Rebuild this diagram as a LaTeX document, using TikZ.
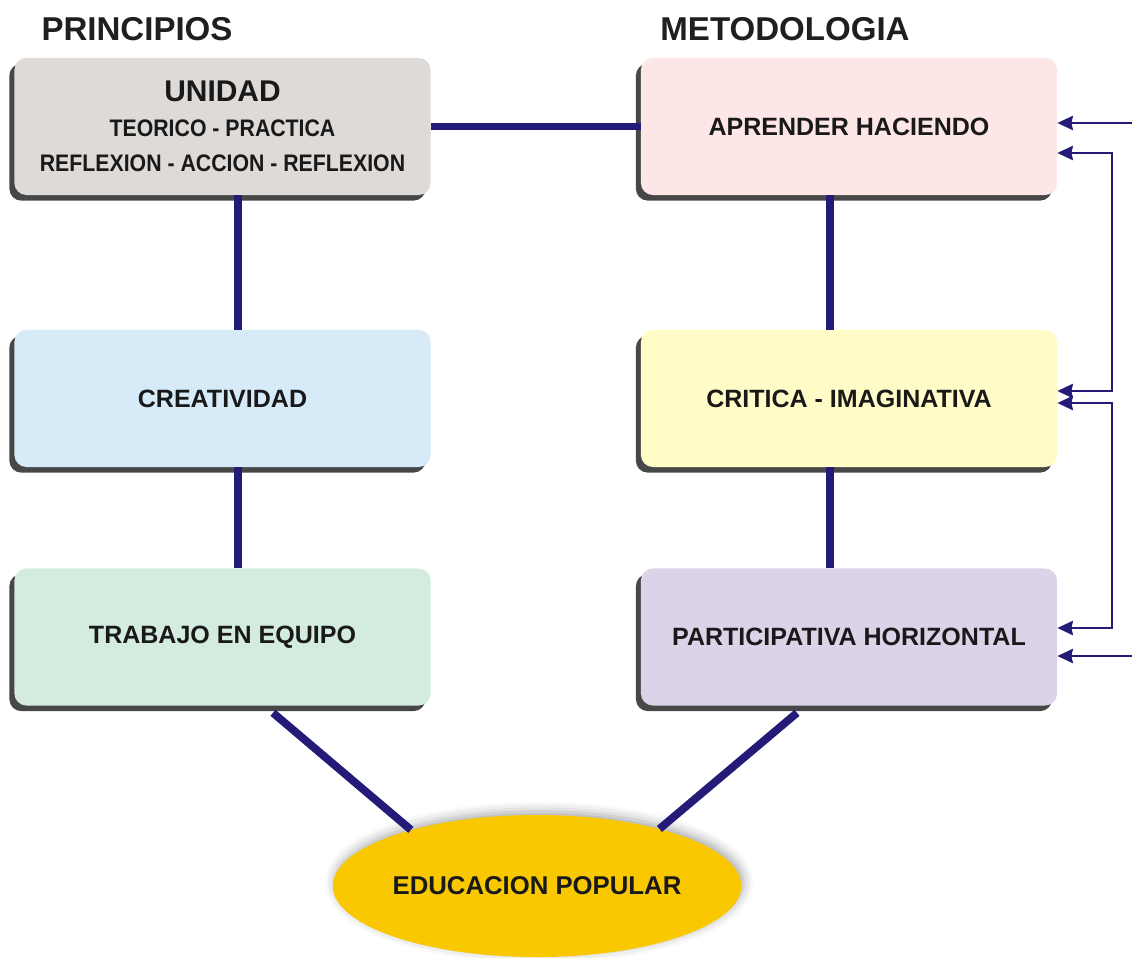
\documentclass[tikz,border=0pt]{standalone}
\usepackage{fontspec}
\setmainfont{Liberation Sans}
\newfontfamily\narrowfont[FakeStretch=0.89]{Liberation Sans}
\usetikzlibrary{shapes.geometric,shadows,shadows.blur,arrows.meta}

\definecolor{navy}{RGB}{36,26,120}
\definecolor{unidadgrey}{RGB}{221,218,215}
\definecolor{crearblue}{RGB}{214,234,248}
\definecolor{equipogreen}{RGB}{212,235,223}
\definecolor{aprenderpink}{RGB}{252,230,230}
\definecolor{criticayellow}{RGB}{255,252,200}
\definecolor{partlilac}{RGB}{221,211,232}
\definecolor{popularyellow}{RGB}{249,200,0}

\begin{document}
\begin{tikzpicture}[x=0.025cm,y=-0.025cm,
	>={Stealth[length=11pt,width=10pt,inset=1pt]},
	box/.style={rounded corners=8.5pt, minimum width=10.4cm, minimum height=3.425cm,
		inner sep=0pt, align=center, text=black!90,
		font=\bfseries\fontsize{17.8}{25}\selectfont,
		drop shadow={shadow xshift=-3.6pt, shadow yshift=-4pt, fill=black!72, opacity=1}},
	link/.style={line width=5.6pt, navy},
	feed/.style={line width=2pt, navy},
	heading/.style={font=\bfseries\fontsize{23.5}{28}\selectfont, text=black!88}]
	
	\useasboundingbox (0,0) rectangle (1132,958);
	
	% headings
	\node [heading] (principios) at (137,29) {PRINCIPIOS};
	\node [heading] (metodologia) at (785,29) {METODOLOGIA};
	
	% principios
	\node [box, fill=unidadgrey] (unidad) at (222.5,126.5)
		{{\fontsize{21.3}{25}\selectfont UNIDAD}\\
		{\narrowfont\bfseries\fontsize{17}{25}\selectfont TEORICO - PRACTICA}\\
		{\narrowfont\bfseries\fontsize{17}{25}\selectfont REFLEXION - ACCION - REFLEXION}};
	\node [box, fill=crearblue] (crea) at (222.5,398.5) {CREATIVIDAD};
	\node [box, fill=equipogreen] (equipo) at (222.5,637) {TRABAJO EN EQUIPO};
	
	% metodologia
	\node [box, fill=aprenderpink] (aprender) at (849,126.5) {APRENDER HACIENDO};
	\node [box, fill=criticayellow] (critica) at (849,398.5) {CRITICA - IMAGINATIVA};
	\node [box, fill=partlilac] (partic) at (849,637) {PARTICIPATIVA HORIZONTAL};
	
	% educacion popular
	\node [ellipse, fill=popularyellow, minimum width=10cm, minimum height=3.55cm, inner sep=0pt,
		font=\bfseries\fontsize{18.3}{22}\selectfont, text=black!90,
		blur shadow={shadow xshift=1.5pt, shadow yshift=2.5pt, shadow blur radius=7pt, shadow opacity=35}]
		(edu) at (537,886) {EDUCACION POPULAR};
	
	% spines
	\coordinate (colL) at (238,0);
	\coordinate (colR) at (830,0);
	\coordinate (footL) at (273,0);
	\coordinate (footR) at (797,0);
	
	% thick links
	\draw [link] (unidad.east) -- (aprender.west);
	\draw [link] (unidad.south -| colL) -- (crea.north -| colL);
	\draw [link] (crea.south -| colL) -- (equipo.north -| colL);
	\draw [link] (aprender.south -| colR) -- (critica.north -| colR);
	\draw [link] (critica.south -| colR) -- (partic.north -| colR);
	\draw [link] ([yshift=-5pt]equipo.south -| footL) -- (edu.156);
	\draw [link] ([yshift=-5pt]partic.south -| footR) -- (edu.25);
	
	% feedback arrows
	\coordinate (inTop) at (1132,123);
	\coordinate (inBot) at (1132,656);
	\coordinate (loopA1) at (1112,153);
	\coordinate (loopA2) at (1112,391);
	\coordinate (loopB1) at (1112,403);
	\coordinate (loopB2) at (1112,628);
	\draw [feed, ->] (inTop) -- (inTop -| aprender.east);
	\draw [feed, <->] (loopA1 -| aprender.east) -- (loopA1) -- (loopA2) -- (loopA2 -| critica.east);
	\draw [feed, <->] (loopB1 -| critica.east) -- (loopB1) -- (loopB2) -- (loopB2 -| partic.east);
	\draw [feed, ->] (inBot) -- (inBot -| partic.east);
	
\end{tikzpicture}
\end{document}
